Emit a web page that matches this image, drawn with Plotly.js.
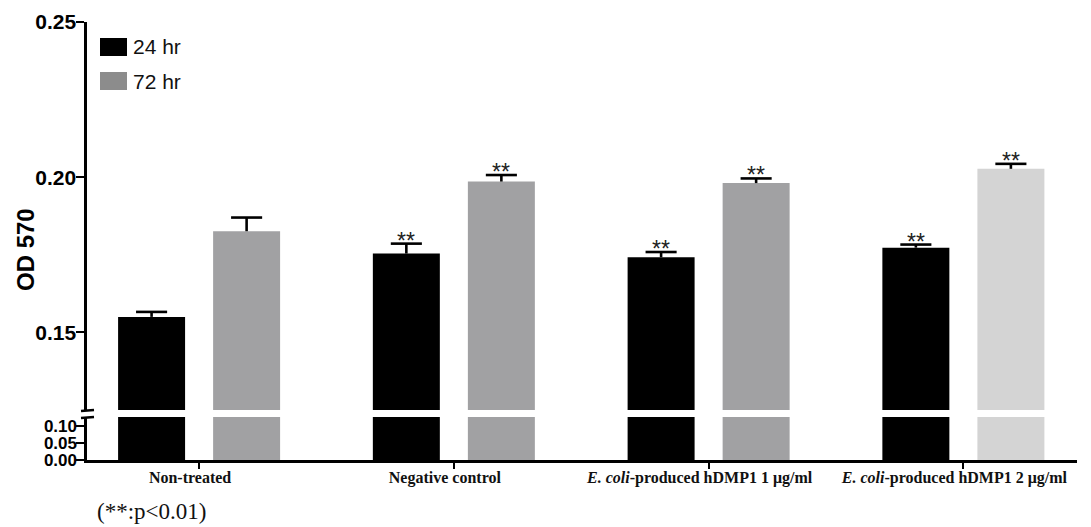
<!DOCTYPE html>
<html>
<head>
<meta charset="utf-8">
<script src="https://cdn.plot.ly/plotly-3.0.1.min.js"></script>
<style>html,body{margin:0;padding:0;background:#fff;}#chart{width:1091px;height:527px;}</style>
</head>
<body>
<div id="chart"></div>
<script>
// ---- data ----
const categories = [
  "Non-treated",
  "Negative control",
  "<i>E. coli</i>-produced hDMP1 1 μg/ml",
  "<i>E. coli</i>-produced hDMP1 2 μg/ml"
];
const od24 = [0.1550, 0.1754, 0.1742, 0.1773];
const err24 = [0.0016, 0.0032, 0.0017, 0.0010];
const od72 = [0.1826, 0.1986, 0.1981, 0.2027];
const err72 = [0.0044, 0.0021, 0.0015, 0.0016];
const sig24 = ["", "**", "**", "**"];
const sig72 = ["", "**", "**", "**"];
const seriesNames = ["24 hr", "72 hr"];
const upperTicks = [0.15, 0.20, 0.25];
const lowerTicks = [0.00, 0.05, 0.10];

// ---- styles ----
const col24 = "#000000";
const col72 = ["#a1a1a3", "#a1a1a3", "#a1a1a3", "#d4d4d4"];
const legendCol72 = "#8c8c8c";

// pixel helpers for paper coords (plot area: x 87..1077, y 22..460)
const L = 87, R = 14, T = 22, B = 67, W = 1091 - L - R, H = 527 - T - B;
const px = x => (x - L) / W;
const py = y => (460 - y) / H;

const traces = [
  {type: "bar", x: categories, y: od24, name: seriesNames[0], marker: {color: col24},
   xaxis: "x", yaxis: "y", showlegend: false},
  {type: "bar", x: categories, y: od72, name: seriesNames[1], marker: {color: col72},
   xaxis: "x", yaxis: "y", showlegend: false},
  {type: "bar", x: categories, y: od24, name: seriesNames[0], marker: {color: col24},
   xaxis: "x", yaxis: "y2", showlegend: false, hoverinfo: "skip"},
  {type: "bar", x: categories, y: od72, name: seriesNames[1], marker: {color: col72},
   xaxis: "x", yaxis: "y2", showlegend: false, hoverinfo: "skip"}
];

const off = 0.1865;     // group offset of each bar (category units)
const capHalf = 0.061;  // half cap width (category units)
const annotations = [];
const shapes = [];
const errLine = {color: "#000", width: 2.6};

function addErr(xc, v, e) {
  shapes.push({type: "line", xref: "x", yref: "y", x0: xc, x1: xc, y0: v, y1: v + e, line: errLine, layer: "above"});
  shapes.push({type: "line", xref: "x", yref: "y", x0: xc - capHalf, x1: xc + capHalf, y0: v + e, y1: v + e, line: errLine, layer: "above"});
}
const starFont = {family: "Arial, Liberation Sans", size: 23, color: "#222"};
categories.forEach((c, i) => {
  addErr(i - off, od24[i], err24[i]);
  addErr(i + off, od72[i], err72[i]);
  if (sig24[i]) annotations.push({x: i - off, y: od24[i] + err24[i], xref: "x", yref: "y", text: sig24[i],
    showarrow: false, yanchor: "bottom", yshift: -12, font: starFont});
  if (sig72[i]) annotations.push({x: i + off, y: od72[i] + err72[i], xref: "x", yref: "y", text: sig72[i],
    showarrow: false, yanchor: "bottom", yshift: -12, font: starFont});
});
// y title
annotations.push({x: px(25), y: py(250), xref: "paper", yref: "paper", text: "<b>OD 570</b>", textangle: -90,
  xanchor: "center", yanchor: "middle",
  showarrow: false, font: {family: "Arial, Liberation Sans", size: 24, color: "#000"}});
// legend text
annotations.push({x: px(131), y: py(47), xref: "paper", yref: "paper", text: seriesNames[0], xanchor: "left", yanchor: "middle",
  showarrow: false, font: {family: "Arial, Liberation Sans", size: 21, color: "#111"}});
annotations.push({x: px(131), y: py(81), xref: "paper", yref: "paper", text: seriesNames[1], xanchor: "left", yanchor: "middle",
  showarrow: false, font: {family: "Arial, Liberation Sans", size: 21, color: "#111"}});
// footnote
annotations.push({x: px(95), y: py(512), xref: "paper", yref: "paper", text: "(**:p<0.01)", xanchor: "left",
  yanchor: "middle", showarrow: false, font: {family: "Liberation Serif, Times New Roman", size: 23, color: "#111"}});

shapes.push(
  {type: "rect", xref: "paper", yref: "paper", x0: px(100), x1: px(127), y0: py(56), y1: py(38),
   fillcolor: col24, line: {width: 0}},
  {type: "rect", xref: "paper", yref: "paper", x0: px(100), x1: px(127), y0: py(90), y1: py(72),
   fillcolor: legendCol72, line: {width: 0}},
  // axis break marks
  {type: "line", xref: "paper", yref: "paper", x0: px(81), x1: px(94), y0: py(411), y1: py(410),
   line: {color: "#000", width: 2.6}},
  {type: "line", xref: "paper", yref: "paper", x0: px(81), x1: px(94), y0: py(418), y1: py(417),
   line: {color: "#000", width: 2.6}}
);

const tickFont = {family: "Arial, Liberation Sans", size: 21, color: "#000", weight: "bold"};
const lowTickFont = {family: "Arial, Liberation Sans", size: 17, color: "#000", weight: "bold"};

const layout = {
  width: 1091, height: 527,
  margin: {l: L, r: R, t: T, b: B, pad: 0},
  paper_bgcolor: "#fff", plot_bgcolor: "#fff",
  barmode: "group", bargap: 0.254, bargroupgap: 0.295,
  showlegend: false,
  xaxis: {
    type: "category", range: [-0.44, 3.446], anchor: "y2",
    showline: true, linecolor: "#000", linewidth: 2.6,
    ticks: "outside", ticklen: 6, tickwidth: 2, tickcolor: "#000",
    tickfont: {family: "Liberation Serif, Times New Roman", size: 16, color: "#111", weight: "bold"},
    ticklabelshift: -9, ticklabelstandoff: -5,
    showgrid: false, zeroline: false, fixedrange: true
  },
  yaxis: {
    domain: [py(410), 1], range: [0.125, 0.25], anchor: "x",
    tickvals: upperTicks, ticktext: upperTicks.map(v => v.toFixed(2)),
    showline: true, linecolor: "#000", linewidth: 2.6,
    ticks: "outside", ticklen: 8, tickwidth: 2.2, tickcolor: "#000",
    tickfont: tickFont, ticklabelstandoff: -4,
    showgrid: false, zeroline: false, fixedrange: true
  },
  yaxis2: {
    domain: [0, py(417)], range: [0, 0.125], anchor: "x",
    tickvals: lowerTicks, ticktext: lowerTicks.map(v => v.toFixed(2)),
    showline: true, linecolor: "#000", linewidth: 2.6,
    ticks: "outside", ticklen: 8, tickwidth: 2.2, tickcolor: "#000",
    tickfont: lowTickFont, ticklabelstandoff: -4,
    showgrid: false, zeroline: false, fixedrange: true
  },
  annotations: annotations,
  shapes: shapes
};

Plotly.newPlot("chart", traces, layout, {displayModeBar: false, staticPlot: true});
</script>
</body>
</html>
